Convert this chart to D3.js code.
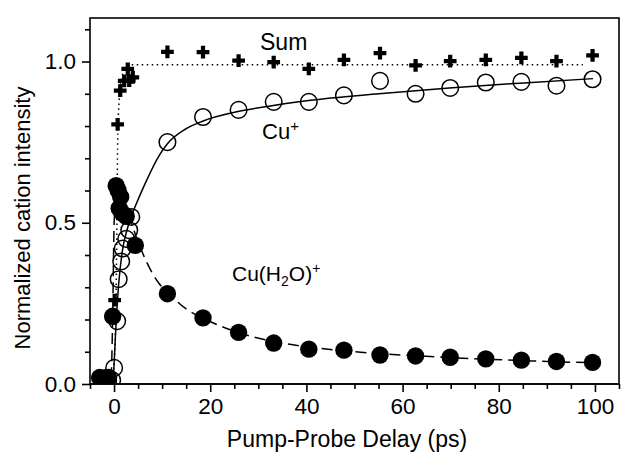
<!DOCTYPE html>
<html><head><meta charset="utf-8">
<script src="https://cdn.jsdelivr.net/npm/d3@7"></script>
<style>body{margin:0;background:#fff}svg{display:block}text{font-family:"Liberation Sans",Arial,sans-serif;fill:#000}</style>
</head><body><svg id="c" width="641" height="458"></svg>
<script>
// ---- data ----
const xTicks = [0, 20, 40, 60, 80, 100];
const yTicks = [0.0, 0.5, 1.0];
const yTickLabels = ["0.0", "0.5", "1.0"];
const lateT = [11.1, 18.5, 25.9, 33.2, 40.5, 47.8, 55.3, 62.7, 69.9, 77.3, 84.7, 92.0, 99.5];
const cuLate = [0.75, 0.828, 0.85, 0.875, 0.875, 0.895, 0.94, 0.90, 0.918, 0.935, 0.937, 0.925, 0.945];
const cuwLate = [0.28, 0.205, 0.16, 0.127, 0.108, 0.105, 0.09, 0.087, 0.083, 0.078, 0.074, 0.07, 0.067];
const sumLate = [1.03, 1.029, 1.003, 0.998, 0.977, 1.005, 1.026, 0.988, 1.001, 1.005, 1.011, 1.001, 1.019];
const cuEarlyT = [-2.2, -1.24, -0.4, 0.02, 0.65, 0.96, 1.49, 1.8, 2.53, 3.16, 3.58];
const cuEarly = [0.01, 0.01, 0.012, 0.05, 0.195, 0.325, 0.38, 0.42, 0.45, 0.477, 0.518];
const cuwEarlyT = [-3.0, -2.28, -1.65, -1.13, -0.29, 0.44, 0.86, 1.38, 1.07, 1.7, 2.53, 4.42];
const cuwEarly = [0.02, 0.015, 0.02, 0.02, 0.21, 0.615, 0.60, 0.58, 0.545, 0.53, 0.52, 0.43];
const sumEarlyT = [0.13, 0.75, 1.28, 2.11, 2.85, 3.16, 3.9];
const sumEarly = [0.26, 0.805, 0.91, 0.94, 0.977, 0.941, 0.951];
// fitted curves
const fitCuT = [-3, -0.5, -0.08, 0.33, 0.96, 1.7, 2.74, 3.58, 4.52, 6.41, 9.44, 11.1, 14.8, 18.4, 25.8, 31.5, 40.4, 55.1, 69.7, 84.4, 99.6];
const fitCu = [0, 0, 0.04, 0.16, 0.31, 0.41, 0.48, 0.52, 0.555, 0.62, 0.71, 0.745, 0.79, 0.815, 0.845, 0.86, 0.879, 0.90, 0.918, 0.933, 0.947];
const fitCuwT = [-3, -0.71, -0.29, 0.02, 0.54, 1.17, 2.01, 2.74, 3.58, 4.52, 6.41, 9.44, 11.1, 14.8, 18.4, 25.8, 33.1, 40.4, 47.8, 55.1, 62.4, 69.7, 77.1, 84.4, 91.7, 99.6];
const fitCuw = [0, 0, 0.2, 0.5, 0.61, 0.59, 0.555, 0.53, 0.50, 0.46, 0.39, 0.31, 0.285, 0.235, 0.205, 0.16, 0.132, 0.115, 0.103, 0.094, 0.088, 0.082, 0.077, 0.073, 0.069, 0.066];
const fitSumT = [-3, -0.92, -0.19, 0.33, 0.6, 0.75, 1.07, 1.59, 2.43, 3.79, 97.5];
const fitSum = [0, 0, 0.03, 0.2, 0.5, 0.75, 0.88, 0.95, 0.98, 0.99, 0.99];

// ---- layout ----
const L = 90, R = 619, T = 18, B = 384;
const svg = d3.select("#c");
const x = d3.scaleLinear().domain([-5, 105]).range([L, R]);
const y = d3.scaleLinear().domain([0, 1.135]).range([B, T]);
const FS = 22;

// frame
svg.append("rect").attr("x", L).attr("y", T).attr("width", R - L).attr("height", B - T)
  .attr("fill", "none").attr("stroke", "#000").attr("stroke-width", 1.6);

// axes
const xMinor = d3.range(-5, 106, 5).filter(v => v % 20 !== 0);
const yMinor = d3.range(0.1, 1.15, 0.1).filter(v => Math.abs(v - 0.5) > 1e-6 && Math.abs(v - 1) > 1e-6);
const gx = svg.append("g").attr("transform", `translate(0,${B})`);
gx.call(d3.axisBottom(x).tickValues(xTicks).tickSize(8).tickPadding(6).tickFormat(d3.format("d")));
gx.append("g").call(d3.axisBottom(x).tickValues(xMinor).tickSize(5).tickFormat(""));
const gy = svg.append("g").attr("transform", `translate(${L},0)`);
gy.call(d3.axisLeft(y).tickValues(yTicks).tickSize(8).tickPadding(6).tickFormat((d, i) => yTickLabels[i]));
gy.append("g").call(d3.axisLeft(y).tickValues(yMinor).tickSize(5).tickFormat(""));
svg.selectAll(".domain").remove();
svg.selectAll(".tick line").attr("stroke", "#000").attr("stroke-width", 1.6);
svg.selectAll(".tick text").style("font-size", "22.5px").attr("fill", "#000");
svg.append("line").attr("x1", L).attr("x2", R).attr("y1", B).attr("y2", B).attr("stroke", "#000").attr("stroke-width", 1.6);

// titles
svg.append("text").attr("x", 347).attr("y", 447).attr("text-anchor", "middle")
  .style("font-size", "23px").text("Pump-Probe Delay (ps)");
svg.append("text").attr("transform", "translate(30,218) rotate(-90)").attr("text-anchor", "middle")
  .style("font-size", FS + "px").text("Normalized cation intensity");

// clip
svg.append("clipPath").attr("id", "clip").append("rect").attr("x", L).attr("y", T).attr("width", R - L).attr("height", B - T);
const plot = svg.append("g").attr("clip-path", "url(#clip)");

const line = d3.line().x(d => x(d[0])).y(d => y(d[1])).curve(d3.curveMonotoneX);
const zip = (a, b) => a.map((v, i) => [v, b[i]]);
plot.append("path").datum(zip(fitSumT, fitSum)).attr("d", line).attr("fill", "none")
  .attr("stroke", "#000").attr("stroke-width", 1.5).attr("stroke-dasharray", "1.5,3.5");
plot.append("path").datum(zip(fitCuT, fitCu)).attr("d", line).attr("fill", "none")
  .attr("stroke", "#000").attr("stroke-width", 1.5);
plot.append("path").datum(zip(fitCuwT, fitCuw)).attr("d", line).attr("fill", "none")
  .attr("stroke", "#000").attr("stroke-width", 1.5).attr("stroke-dasharray", "11,6");

// markers
const sumPts = zip(sumEarlyT.concat(lateT), sumEarly.concat(sumLate));
const cross = d3.symbol().type(d3.symbolCross).size(90);
plot.selectAll(".sum").data(sumPts).join("path").attr("class", "sum")
  .attr("transform", d => `translate(${x(d[0])},${y(d[1])})`).attr("d", cross).attr("fill", "#000");
const cuwPts = zip(cuwEarlyT.concat(lateT), cuwEarly.concat(cuwLate));
plot.selectAll(".cuw").data(cuwPts).join("circle").attr("class", "cuw")
  .attr("cx", d => x(d[0])).attr("cy", d => y(d[1])).attr("r", 8.7).attr("fill", "#000");
const cuPts = zip(cuEarlyT.concat(lateT), cuEarly.concat(cuLate));
plot.selectAll(".cu").data(cuPts).join("circle").attr("class", "cu")
  .attr("cx", d => x(d[0])).attr("cy", d => y(d[1])).attr("r", 8.3).attr("fill", "#fff")
  .attr("fill-opacity", 0).attr("stroke", "#000").attr("stroke-width", 1.5);

// labels
svg.append("text").attr("x", 260).attr("y", 50).style("font-size", "23px").text("Sum");
const t1 = svg.append("text").attr("x", 262).attr("y", 139).style("font-size", FS + "px");
t1.append("tspan").text("Cu");
t1.append("tspan").attr("dy", -8).style("font-size", "15px").text("+");
const t2 = svg.append("text").attr("x", 232).attr("y", 281).style("font-size", "21px");
t2.append("tspan").text("Cu(H");
t2.append("tspan").attr("dy", 5).style("font-size", "14px").text("2");
t2.append("tspan").attr("dy", -5).text("O)");
t2.append("tspan").attr("dy", -8).style("font-size", "14px").text("+");
</script></body></html>
